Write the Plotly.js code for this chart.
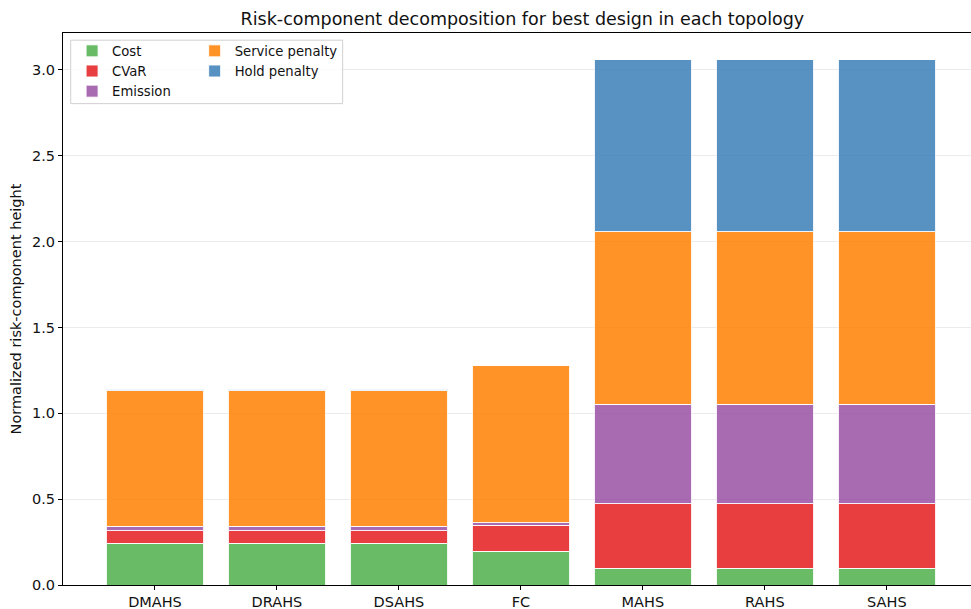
<!DOCTYPE html>
<html>
<head>
<meta charset="utf-8">
<script src="https://cdn.plot.ly/plotly-3.0.1.min.js"></script>
<style>
  html, body { margin: 0; padding: 0; background: #fff; }
  #chart { width: 971px; height: 609px; }
</style>
</head>
<body>
<div id="chart"></div>
<script>
// Topologies on the x axis
const topologies = ["DMAHS", "DRAHS", "DSAHS", "FC", "MAHS", "RAHS", "SAHS"];

// Stacked risk components per topology (normalized heights)
const cost           = [0.243, 0.243, 0.243, 0.196, 0.099, 0.099, 0.099];
const cvar           = [0.072, 0.072, 0.072, 0.153, 0.375, 0.375, 0.375];
const emission       = [0.027, 0.027, 0.027, 0.014, 0.580, 0.580, 0.580];
const servicePenalty = [0.790, 0.790, 0.790, 0.917, 1.002, 1.002, 1.002];
const holdPenalty    = [0.009, 0.009, 0.009, 0.000, 1.002, 1.002, 1.002];

const yTicks = [0, 0.5, 1.0, 1.5, 2.0, 2.5, 3.0];
const yTickLabels = ["0.0", "0.5", "1.0", "1.5", "2.0", "2.5", "3.0"];

const FONT = "DejaVu Sans, sans-serif";

function bar(name, values, color, legend) {
  return {
    type: "bar",
    name: name,
    x: topologies,
    y: values,
    width: 0.8,
    opacity: 0.84,
    marker: { color: color, line: { color: "rgba(255,255,255,0.9)", width: 1 } },
    legend: legend,
    hoverinfo: "x+y+name"
  };
}

const data = [
  bar("Cost", cost, "#4daf4a", "legend"),
  bar("CVaR", cvar, "#e41a1c", "legend"),
  bar("Emission", emission, "#984ea3", "legend"),
  bar("Service penalty", servicePenalty, "#ff7f00", "legend2"),
  bar("Hold penalty", holdPenalty, "#377eb8", "legend2")
];

const legendCommon = {
  bgcolor: "rgba(0,0,0,0)",
  borderwidth: 0,
  font: { family: FONT, size: 13.2, color: "#111" },
  traceorder: "normal",
  yanchor: "top",
  xanchor: "left",
  tracegroupgap: 0,
  itemwidth: 30
};

const layout = {
  width: 971,
  height: 609,
  margin: { l: 63, r: 0, t: 33, b: 24 },
  paper_bgcolor: "#ffffff",
  plot_bgcolor: "#ffffff",
  barmode: "stack",
  bargap: 0.2,
  showlegend: true,
  title: {
    text: "Risk-component decomposition for best design in each topology",
    font: { family: FONT, size: 17.5, color: "#111" },
    x: 0.538,
    xanchor: "center",
    y: 0.969,
    yanchor: "middle"
  },
  xaxis: {
    range: [-0.754, 6.69],
    showline: true,
    linecolor: "#000",
    linewidth: 1,
    mirror: true,
    ticks: "outside",
    ticklen: 4,
    tickcolor: "#000",
    showgrid: false,
    zeroline: false,
    tickfont: { family: FONT, size: 14.5, color: "#111" }
  },
  yaxis: {
    range: [0, 3.215],
    tickvals: yTicks,
    ticktext: yTickLabels,
    showline: true,
    linecolor: "#000",
    linewidth: 1,
    ticks: "outside",
    ticklen: 4,
    tickcolor: "#000",
    showgrid: true,
    gridcolor: "#ebebeb",
    gridwidth: 1,
    zeroline: false,
    tickfont: { family: FONT, size: 14.5, color: "#111" },
    title: {
      text: "Normalized risk-component height",
      font: { family: FONT, size: 14.5, color: "#111" },
      standoff: 6
    }
  },
  legend: Object.assign({ x: 0.01, y: 0.995 }, legendCommon),
  legend2: Object.assign({ x: 0.145, y: 0.995 }, legendCommon),
  shapes: [
    {
      type: "rect",
      xref: "paper", yref: "paper",
      x0: 0.0085, x1: 0.308, y0: 0.872, y1: 0.987,
      line: { color: "#d0d0d0", width: 1 },
      fillcolor: "rgba(255,255,255,0.8)",
      layer: "above"
    }
  ]
};

Plotly.newPlot("chart", data, layout, { displayModeBar: false, staticPlot: true });
</script>
</body>
</html>
